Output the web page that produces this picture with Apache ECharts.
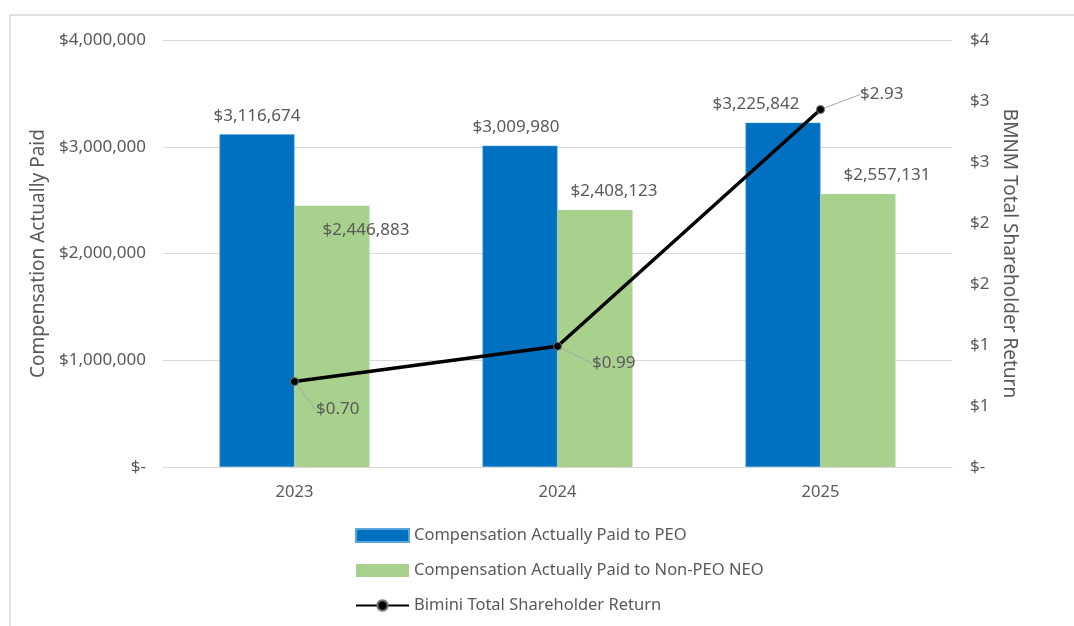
<!DOCTYPE html>
<html>
<head>
<meta charset="utf-8">
<script src="https://cdn.jsdelivr.net/npm/echarts@6/dist/echarts.min.js"></script>
<style>
    html, body { margin: 0; padding: 0; background: #fff; }
    #chart { width: 1074px; height: 626px; }
</style>
</head>
<body>
<div id="chart"></div>
<script>
var years = ['2023', '2024', '2025'];
var peoPay = [3116674, 3009980, 3225842];
var neoPay = [2446883, 2408123, 2557131];
var tsr = [0.70, 0.99, 2.93];

// label nudges (px), the excel labels were moved by hand
var peoLabelShift = [[0, 0], [-4, 0], [-27, 0]];
var neoLabelShift = [[34, 43], [19, 0], [29, 0]];
var tsrLabelShift = [[12, 28], [25, 17], [30, -15]];

var txt = '#595959';
var font = 'Noto Sans';

function money(v) {
    if (v === 0) return '$-';
    return '$' + Math.round(v).toLocaleString('en-US');
}

function withShift(values, shifts) {
    return values.map(function (v, i) {
        return { value: v, label: { offset: shifts[i] } };
    });
}

var chart = echarts.init(document.getElementById('chart'));

var option = {
    animation: false,
    textStyle: { fontFamily: font, color: txt },
    grid: { left: 163, right: 122, top: 40, bottom: 159 },
    graphic: [
        { type: 'line', shape: { x1: 10, y1: 15, x2: 10, y2: 626 }, style: { stroke: '#d9d9d9', lineWidth: 1.5 } },
        { type: 'line', shape: { x1: 10, y1: 15, x2: 1074, y2: 15 }, style: { stroke: '#d9d9d9', lineWidth: 1.5 } }
    ],
    legend: {
        orient: 'vertical',
        left: 350,
        top: 522,
        itemWidth: 53,
        itemHeight: 13,
        itemGap: 18,
        textStyle: { fontFamily: font, color: txt, fontSize: 16.5 },
        data: [
            { name: 'Compensation Actually Paid to PEO', icon: 'rect' },
            { name: 'Compensation Actually Paid to Non-PEO NEO', icon: 'rect' },
            { name: 'Bimini Total Shareholder Return' }
        ]
    },
    xAxis: {
        type: 'category',
        data: years,
        axisLine: { lineStyle: { color: '#d9d9d9' } },
        axisTick: { show: false },
        axisLabel: { color: txt, fontSize: 16.5, margin: 17 }
    },
    yAxis: [{
        type: 'value',
        z: -2,
        min: 0,
        max: 4000000,
        interval: 1000000,
        name: 'Compensation Actually Paid',
        nameLocation: 'middle',
        nameGap: 114,
        nameTextStyle: { color: txt, fontSize: 19 },
        axisLabel: { color: txt, fontSize: 17, margin: 17, formatter: money },
        splitLine: { lineStyle: { color: '#d9d9d9' } }
    }, {
        type: 'value',
        z: -2,
        min: 0,
        max: 3.5,
        interval: 0.5,
        name: 'BMNM Total Shareholder Return',
        nameLocation: 'middle',
        nameGap: 38,
        nameRotate: -90,
        nameTextStyle: { color: txt, fontSize: 19 },
        axisLabel: { color: txt, fontSize: 17, margin: 18, formatter: function (v) { return v === 0 ? '$-' : '$' + Math.round(v); } },
        splitLine: { show: false }
    }],
    series: [{
        name: 'Compensation Actually Paid to PEO',
        type: 'bar',
        z: -1,
        barWidth: 75,
        barGap: '0%',
        itemStyle: { color: '#0070C0', borderColor: '#5aa6dc', borderWidth: 0.5 },
        label: { show: true, position: 'top', distance: 10, color: txt, fontSize: 17, formatter: function (p) { return money(p.value); } },
        data: withShift(peoPay, peoLabelShift)
    }, {
        name: 'Compensation Actually Paid to Non-PEO NEO',
        type: 'bar',
        z: -1,
        barWidth: 75,
        barGap: '0%',
        itemStyle: { color: '#A9D18E' },
        label: { show: true, position: 'top', distance: 10, color: txt, fontSize: 17, formatter: function (p) { return money(p.value); } },
        data: withShift(neoPay, neoLabelShift)
    }, {
        name: 'Bimini Total Shareholder Return',
        type: 'line',
        yAxisIndex: 1,
        symbol: 'circle',
        symbolSize: 8,
        lineStyle: { color: '#000', width: 3.5 },
        itemStyle: { color: '#000', borderColor: '#777', borderWidth: 1 },
        label: {
            show: true,
            position: 'right',
            distance: 5,
            color: txt,
            fontSize: 17,
            formatter: function (p) { return '$' + p.value.toFixed(2); }
        },
        labelLine: { show: true, lineStyle: { color: '#a6a6a6', width: 1 } },
        labelLayout: function (p) {
            var s = tsrLabelShift[p.dataIndex];
            return { dx: s[0], dy: s[1] };
        },
        data: tsr,
        z: 5
    }]
};

chart.setOption(option);
</script>
</body>
</html>
